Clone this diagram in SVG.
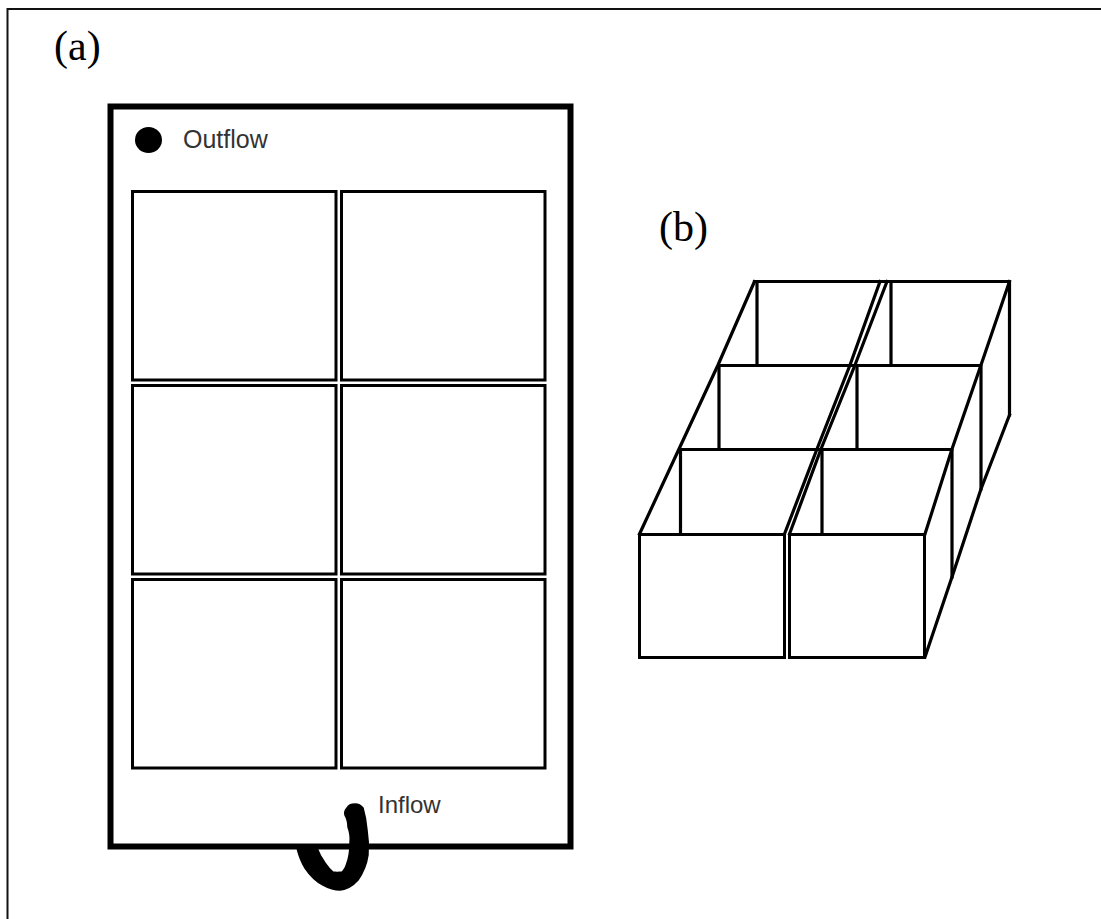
<svg xmlns="http://www.w3.org/2000/svg" width="1101" height="919" viewBox="0 0 1101 919">
<style>
.cell{fill:#fff;stroke:#000;stroke-width:3}
.l{fill:none;stroke:#000;stroke-width:3.200;stroke-linejoin:round;stroke-linecap:square}
.serif{font-family:"Liberation Serif",serif;font-size:42px;fill:#000}
.sans{font-family:"Liberation Sans",sans-serif;fill:#333}
</style>
<rect width="1101" height="919" fill="#fff"/>
<path id="frame" d="M7.500 919V9H1101" fill="none" stroke="#111" stroke-width="2"/>
<text id="label-a" class="serif" x="54" y="60">(a)</text>
<text id="label-b" class="serif" x="659" y="241">(b)</text>
<g id="tank">
<rect x="110.500" y="106.500" width="460" height="740" fill="#fff" stroke="#000" stroke-width="6"/>
</g>
<g id="cells">
<rect id="cell-1" class="cell" x="132.500" y="191.500" width="203.500" height="188.500"/>
<rect id="cell-2" class="cell" x="341.500" y="191.500" width="203.500" height="188.500"/>
<rect id="cell-3" class="cell" x="132.500" y="385.500" width="203.500" height="188.500"/>
<rect id="cell-4" class="cell" x="341.500" y="385.500" width="203.500" height="188.500"/>
<rect id="cell-5" class="cell" x="132.500" y="579.500" width="203.500" height="188.500"/>
<rect id="cell-6" class="cell" x="341.500" y="579.500" width="203.500" height="188.500"/>
</g>
<g id="outflow">
<ellipse cx="148.500" cy="140" rx="13.500" ry="13" fill="#000"/>
<text class="sans" x="183" y="148" font-size="25">Outflow</text>
</g>
<g id="inflow">
<path d="M297 848Q300 860 305 868Q313 880 323 885Q332 890 340 890Q350 889 358 880Q366 869 368 855Q369 842 367 830Q366 818 363 808Q360 804 355 804Q349 804 347 808Q344 811 345 815Q348 820 348 827Q351 835 350 843Q350 855 347 863Q345 870 342 872Q337 873 333 872Q329 869 325 863Q320 856 317 848Z" fill="#000" stroke="#000" stroke-width="1.500"/>
<text class="sans" x="378" y="813" font-size="24">Inflow</text>
</g>
<g id="stack">
<path class="l" d="M754.500 281.500H1009.500V415M719 365.500H981V489M680 449.500H952V577M757 281.500V365M719 365.500V449M680.500 449.500V534M891 281.500V365M857 365.500V449M822 449.500V534"/>
<path class="l" d="M639.500 534L679 449L718 365L754.500 281.500M784.500 534L817 449L850 365L880 281.500M789.500 534L821 449L855 365L887 281.500M925 534L952 449L981 365L1009.500 281.500M925 657L952 577L981 489L1009.500 415"/>
<rect id="box-front-left" class="cell" x="639.500" y="534.500" width="145" height="123"/>
<rect id="box-front-right" class="cell" x="789.500" y="534.500" width="135" height="123"/>
</g>
</svg>
